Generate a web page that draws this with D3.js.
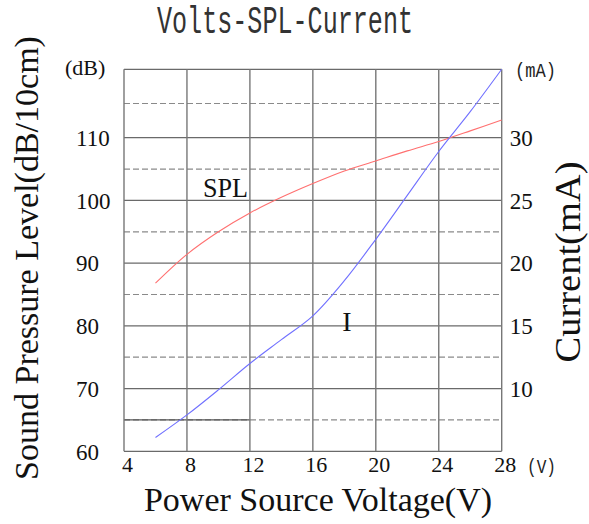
<!DOCTYPE html>
<html>
<head>
<meta charset="utf-8">
<script src="https://cdn.jsdelivr.net/npm/d3@7"></script>
<style>
  body { margin: 0; background: #fff; }
  svg { display: block; }
</style>
</head>
<body>
<div class="wrapper-chart"></div>
<script>
// values
const voltage = [6, 8, 10, 12, 14, 16, 18, 20, 22, 24, 26, 28];
const splDb = [86.8, 91.4, 95.0, 98.0, 100.5, 102.7, 104.7, 106.3, 107.9, 109.4, 111.0, 112.6];
const currentMa = [6.1, 7.9, 9.9, 12.0, 13.9, 15.8, 18.6, 21.9, 25.4, 28.9, 31.9, 35.0];

const voltTicks = [4, 8, 12, 16, 20, 24, 28];
const dbTicks = [60, 70, 80, 90, 100, 110];
const dbHalfTicks = [65, 75, 85, 95, 105, 115];
const maTicks = [10, 15, 20, 25, 30];

const width = 589, height = 524;
const plotLeft = 124, plotRight = 501.7, plotTop = 69.3, plotBottom = 451.3;
const serif = "'Liberation Serif', 'Times New Roman', serif";
const mono = "'Liberation Mono', 'DejaVu Sans Mono', monospace";

const svg = d3.select(".wrapper-chart")
              .append("svg")
              .attr("width", width)
              .attr("height", height)
              .attr("viewBox", [0, 0, width, height]);

svg.append("rect").attr("width", width).attr("height", height).attr("fill", "#fff");

const x = d3.scaleLinear().domain([4, 28]).range([plotLeft, plotRight]);
// the top band of the original grid is a bit taller than the rest
const yDb = d3.scaleLinear().domain([60, 110, 120]).range([plotBottom, 137.7, plotTop]);
const yMa = d3.scaleLinear().domain([5, 30, 35]).range([plotBottom, 137.7, plotTop]);

// grid
const grid = svg.append("g");
grid.selectAll(".dash")
    .data(dbHalfTicks)
    .join("line")
    .attr("x1", plotLeft).attr("x2", plotRight)
    .attr("y1", d => yDb(d)).attr("y2", d => yDb(d))
    .attr("stroke", "#8a8a8a")
    .attr("stroke-width", 1.2)
    .attr("stroke-dasharray", "6,3");
// solid piece over the lowest dashed line, 4V..12V
grid.append("line")
    .attr("x1", x(4)).attr("x2", x(12))
    .attr("y1", yDb(65)).attr("y2", yDb(65))
    .attr("stroke", "#555").attr("stroke-width", 1.2);
grid.selectAll(".hline")
    .data(dbTicks.concat([120]))
    .join("line")
    .attr("x1", plotLeft).attr("x2", plotRight)
    .attr("y1", d => yDb(d)).attr("y2", d => yDb(d))
    .attr("stroke", "#6a6a6a")
    .attr("stroke-width", 1.3);
grid.selectAll(".vline")
    .data(voltTicks)
    .join("line")
    .attr("x1", d => x(d)).attr("x2", d => x(d))
    .attr("y1", plotTop).attr("y2", plotBottom)
    .attr("stroke", "#777")
    .attr("stroke-width", 1.4);

// curves
const splLine = d3.line()
    .x((d, i) => x(voltage[i]))
    .y(d => yDb(d))
    .curve(d3.curveCatmullRom);
const maLine = d3.line()
    .x((d, i) => x(voltage[i]))
    .y(d => yMa(d))
    .curve(d3.curveCatmullRom);

svg.append("path")
   .attr("d", splLine(splDb))
   .attr("fill", "none")
   .attr("stroke", "#ff7070")
   .attr("stroke-width", 1.1);
svg.append("path")
   .attr("d", maLine(currentMa))
   .attr("fill", "none")
   .attr("stroke", "#7070ff")
   .attr("stroke-width", 1.1);

// axes (labels only)
const axLeft = svg.append("g")
    .attr("transform", "translate(" + plotLeft + ",0)")
    .call(d3.axisLeft(yDb).tickValues(dbTicks).tickSize(0));
axLeft.select(".domain").remove();
axLeft.selectAll("text")
      .attr("x", 76 - plotLeft)
      .attr("dy", "0.34em")
      .style("text-anchor", "start")
      .style("font-family", serif)
      .style("font-size", "23px")
      .attr("fill", "#111");

const axRight = svg.append("g")
    .attr("transform", "translate(" + plotRight + ",0)")
    .call(d3.axisRight(yMa).tickValues(maTicks).tickSize(0).tickPadding(8));
axRight.select(".domain").remove();
axRight.selectAll("text")
       .attr("dy", "0.34em")
       .style("font-family", serif)
       .style("font-size", "23px")
       .attr("fill", "#111");

const axBottom = svg.append("g")
    .attr("transform", "translate(0," + plotBottom + ")")
    .call(d3.axisBottom(x).tickValues(voltTicks).tickSize(0));
axBottom.select(".domain").remove();
axBottom.selectAll("text")
        .attr("x", 3)
        .attr("y", 20.5)
        .attr("dy", 0)
        .style("font-family", serif)
        .style("font-size", "22px")
        .attr("fill", "#111");

// unit labels
svg.append("text").text("(dB)")
   .attr("x", 65).attr("y", 75)
   .style("font-family", serif).style("font-size", "22px").attr("fill", "#111");
svg.append("text").text("(mA)")
   .attr("x", 515).attr("y", 77)
   .style("font-family", mono).style("font-size", "21px")
   .attr("textLength", 41).attr("lengthAdjust", "spacingAndGlyphs")
   .attr("fill", "#222");
svg.append("text").text("(V)")
   .attr("x", 527).attr("y", 473)
   .style("font-family", mono).style("font-size", "21px")
   .attr("textLength", 29).attr("lengthAdjust", "spacingAndGlyphs")
   .attr("fill", "#222");

// title
svg.append("text").text("Volts-SPL-Current")
   .attr("x", 157).attr("y", 33)
   .attr("textLength", 256).attr("lengthAdjust", "spacingAndGlyphs")
   .style("font-family", mono).style("font-size", "39px")
   .attr("fill", "#333");

// axis titles
svg.append("text").text("Power Source Voltage(V)")
   .attr("x", 318).attr("y", 511)
   .style("text-anchor", "middle")
   .style("font-family", serif).style("font-size", "34px")
   .attr("fill", "#111");
svg.append("text").text("Sound Pressure Level(dB/10cm)")
   .attr("transform", "translate(38,258) rotate(-90)")
   .style("text-anchor", "middle")
   .style("font-family", serif).style("font-size", "34px")
   .attr("fill", "#111");
svg.append("text").text("Current(mA)")
   .attr("transform", "translate(580,262) rotate(-90)")
   .attr("textLength", 201).attr("lengthAdjust", "spacingAndGlyphs")
   .style("text-anchor", "middle")
   .style("font-family", serif).style("font-size", "36px")
   .attr("fill", "#111");

// series labels
svg.append("text").text("SPL")
   .attr("x", 203).attr("y", 197)
   .attr("textLength", 45).attr("lengthAdjust", "spacingAndGlyphs")
   .style("font-family", serif).style("font-size", "28px")
   .attr("fill", "#111");
svg.append("text").text("I")
   .attr("x", 347).attr("y", 331)
   .style("text-anchor", "middle")
   .style("font-family", serif).style("font-size", "28px")
   .attr("fill", "#111");
</script>
</body>
</html>
